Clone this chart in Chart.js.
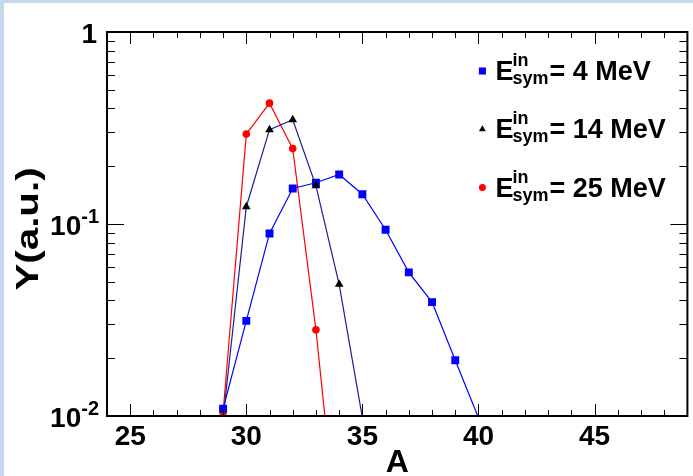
<!DOCTYPE html>
<html>
<head>
<meta charset="utf-8">
<script src="https://cdn.jsdelivr.net/npm/chart.js@4.4.0/dist/chart.umd.min.js"></script>
<style>
html, body { margin: 0; padding: 0; background: #fff; }
#wrap { width: 693px; height: 476px; position: relative; }
</style>
</head>
<body>
<div id="wrap"><canvas id="graphYield"></canvas></div>
<script>
// datos
var massA = [29, 30, 31, 32, 33, 34, 35, 36, 37, 38, 39, 40]
var yield4 = [0.0109, 0.0313, 0.0893, 0.153, 0.164, 0.181, 0.143, 0.0933, 0.056, 0.0392, 0.0195, 0.0098]
var yield14 = [0.0097, 0.123, 0.31, 0.349, 0.158, 0.0485, 0.0098]
var yield25 = [0.0104, 0.294, 0.426, 0.247, 0.0281, 0.0019]
var legendNames = ['= 4 MeV', '= 14 MeV', '= 25 MeV']
var xTickLabels = [25, 30, 35, 40, 45]
var yTickValues = [0.01, 0.1, 1]
var yTickBase = ['10', '10', '1']
var yTickExp = ['-2', '-1', '']

var FONT = '"Liberation Sans", Arial, Helvetica, sans-serif'

function toPoints(vals) {
  return vals.map(function (v, i) { return { x: massA[i], y: v } })
}

// esconder marcadores fuera del rango
function radiusFor(r) {
  return function (c) { return (c.raw && c.raw.y < 0.01) ? 0 : r }
}

function line(ctx, x1, y1, x2, y2) {
  ctx.beginPath(); ctx.moveTo(x1, y1); ctx.lineTo(x2, y2); ctx.stroke()
}

var framePlugin = {
  id: 'frame',
  beforeDraw: function (chart) {
    var ctx = chart.ctx
    ctx.save()
    ctx.fillStyle = '#c8d7f0'
    ctx.fillRect(0, 0, chart.width, chart.height)
    ctx.fillStyle = '#ffffff'
    ctx.fillRect(4, 3, chart.width - 4, chart.height - 3)
    ctx.restore()
  },
  afterDraw: function (chart) {
    var ctx = chart.ctx
    var ca = chart.chartArea
    var xs = chart.scales.x, ys = chart.scales.y
    ctx.save()
    ctx.strokeStyle = '#000'
    ctx.lineWidth = 1
    // ticks eje x (abajo y arriba)
    for (var a = Math.ceil(xs.min); a <= xs.max; a++) {
      var px = Math.round(xs.getPixelForValue(a)) + 0.5
      var len = a % 5 === 0 ? 12 : 6
      line(ctx, px, ca.bottom, px, ca.bottom - len)
      line(ctx, px, ca.top, px, ca.top + len)
    }
    // ticks eje y (log)
    for (var e = -2; e <= 0; e++) {
      for (var k = 1; k <= 9; k++) {
        var v = k * Math.pow(10, e)
        if (v > ys.max * 1.0001) break
        var py = Math.round(ys.getPixelForValue(v)) + 0.5
        var l = k === 1 ? 17 : 8
        line(ctx, ca.left, py, ca.left + l, py)
        line(ctx, ca.right, py, ca.right - l, py)
      }
    }
    // marco
    ctx.lineWidth = 2
    ctx.strokeRect(ca.left, ca.top, ca.right - ca.left, ca.bottom - ca.top)

    // etiquetas eje x
    ctx.fillStyle = '#000'
    ctx.font = 'bold 28px ' + FONT
    ctx.textAlign = 'center'
    ctx.textBaseline = 'alphabetic'
    xTickLabels.forEach(function (t) {
      ctx.fillText(String(t), xs.getPixelForValue(t), ca.bottom + 29)
    })
    // etiquetas eje y con exponente
    yTickValues.forEach(function (v, i) {
      var py = ys.getPixelForValue(v)
      var right = 99
      ctx.textAlign = 'right'
      if (yTickExp[i]) {
        ctx.font = 'bold 20px ' + FONT
        var w = ctx.measureText(yTickExp[i]).width
        ctx.fillText(yTickExp[i], right, py - 1)
        right -= w
      } else {
        right = 97
      }
      ctx.font = 'bold 28px ' + FONT
      ctx.fillText(yTickBase[i], right, py + 11)
    })
    // titulos
    ctx.font = 'bold 32px ' + FONT
    ctx.textAlign = 'center'
    ctx.fillText('A', (ca.left + ca.right) / 2, ca.bottom + 56)
    ctx.save()
    ctx.translate(38, 229)
    ctx.rotate(-Math.PI / 2)
    ctx.scale(1.3, 1)
    ctx.font = 'bold 31px ' + FONT
    ctx.fillText('Y(a.u.)', 0, 0)
    ctx.restore()

    // leyenda
    var mx = ca.right - 205
    chart.data.datasets.forEach(function (ds, i) {
      var cy = ca.top + 39 + i * 58.3
      ctx.fillStyle = ds.pointBackgroundColor
      Chart.helpers.drawPoint(ctx, {
        pointStyle: ds.pointStyle, radius: ds.legendRadius, rotation: 0, borderWidth: 0
      }, mx, cy)
      ctx.fillStyle = '#000'
      var base = cy + 9
      var x = mx + 13
      ctx.textAlign = 'left'
      ctx.font = 'bold 27px ' + FONT
      ctx.fillText('E', x, base)
      x += ctx.measureText('E').width - 1
      ctx.font = 'bold 18px ' + FONT
      ctx.fillText('in', x, base - 14)
      ctx.fillText('sym', x, base + 4)
      x += ctx.measureText('sym').width + 1
      ctx.font = 'bold 27px ' + FONT
      ctx.fillText(legendNames[i], x, base)
    })
    ctx.restore()
  }
}

function createChart() {
  var ctx = document.getElementById('graphYield').getContext('2d')
  new Chart(ctx, {
    type: 'line',
    data: {
      datasets: [{
        label: legendNames[0],
        data: toPoints(yield4),
        borderColor: '#0000ff',
        backgroundColor: '#0000ff',
        pointBackgroundColor: '#0000ff',
        pointBorderColor: '#0000ff',
        pointStyle: 'rect',
        pointRadius: radiusFor(5.6),
        legendRadius: 5,
        borderWidth: 1.2,
        pointBorderWidth: 0,
        order: 2
      }, {
        label: legendNames[1],
        data: toPoints(yield14),
        borderColor: '#1c1c96',
        backgroundColor: '#000000',
        pointBackgroundColor: '#000000',
        pointBorderColor: '#000000',
        pointStyle: 'triangle',
        pointRadius: radiusFor(5),
        legendRadius: 4,
        borderWidth: 1.2,
        pointBorderWidth: 0,
        order: 1
      }, {
        label: legendNames[2],
        data: toPoints(yield25),
        borderColor: '#ff0000',
        backgroundColor: '#ff0000',
        pointBackgroundColor: '#ff0000',
        pointBorderColor: '#ff0000',
        pointStyle: 'circle',
        pointRadius: radiusFor(3.8),
        legendRadius: 3.5,
        borderWidth: 1.2,
        pointBorderWidth: 0,
        order: 3
      }]
    },
    options: {
      responsive: true,
      maintainAspectRatio: false,
      animation: false,
      devicePixelRatio: 1,
      layout: { padding: { left: 107, top: 32, right: 2, bottom: 60 } },
      plugins: { legend: { display: false }, tooltip: { enabled: false } },
      scales: {
        x: { type: 'linear', min: 24, max: 49, display: false },
        y: { type: 'logarithmic', min: 0.01, max: 1, display: false }
      }
    },
    plugins: [framePlugin]
  })
}

createChart()
</script>
</body>
</html>
